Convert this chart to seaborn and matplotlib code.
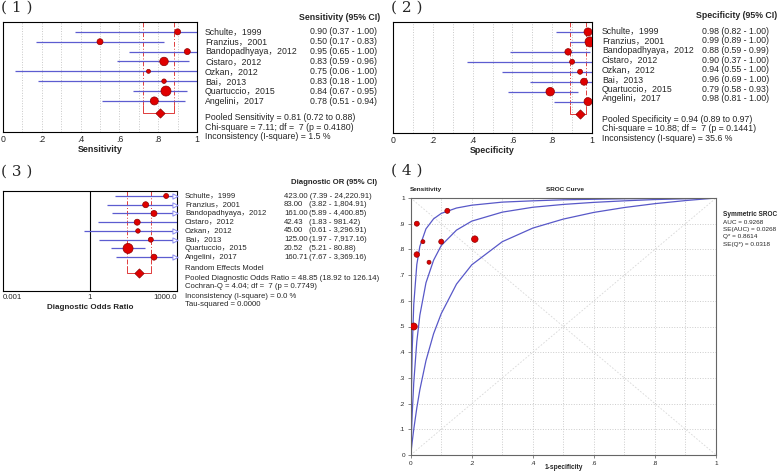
import numpy as np
import matplotlib
matplotlib.use("Agg")
import matplotlib.pyplot as plt
import matplotlib.transforms as mtransforms
import seaborn as sns

studies = ["Schulte，1999", "Franzius，2001", "Bandopadhyaya，2012", "Cistaro，2012",
           "Ozkan，2012", "Bai，2013", "Quartuccio，2015", "Angelini，2017"]

sens = [0.90, 0.50, 0.95, 0.83, 0.75, 0.83, 0.84, 0.78]
sens_lo = [0.37, 0.17, 0.65, 0.59, 0.06, 0.18, 0.67, 0.51]
sens_hi = [1.00, 0.83, 1.00, 0.96, 1.00, 1.00, 0.95, 0.94]
sens_w = [6, 6, 6, 8.5, 4, 4.5, 10, 8]
sens_pooled = [0.81, 0.72, 0.88]

spec = [0.98, 0.99, 0.88, 0.90, 0.94, 0.96, 0.79, 0.98]
spec_lo = [0.82, 0.89, 0.59, 0.37, 0.55, 0.69, 0.58, 0.81]
spec_hi = [1.00, 1.00, 0.99, 1.00, 1.00, 1.00, 0.93, 1.00]
spec_w = [8, 10, 6.5, 5, 5, 7, 8.5, 8]
spec_pooled = [0.94, 0.89, 0.97]

dor = [423.00, 83.00, 161.00, 42.43, 45.00, 125.00, 20.52, 160.71]
dor_lo = [7.39, 3.82, 5.89, 1.83, 0.61, 1.97, 5.21, 7.67]
dor_hi = [24220.91, 1804.91, 4400.85, 981.42, 3296.91, 7917.16, 80.88, 3369.16]
dor_w = [5, 6, 6, 6, 4.5, 5, 10, 6]
dor_pooled = [48.85, 18.92, 126.14]
dor_val_txt = ["423.00", "83.00", "161.00", "42.43", "45.00", "125.00", "20.52", "160.71"]
dor_ci_txt = ["(7.39 - 24,220.91)", "(3.82 - 1,804.91)", "(5.89 - 4,400.85)", "(1.83 - 981.42)",
              "(0.61 - 3,296.91)", "(1.97 - 7,917.16)", "(5.21 - 80.88)", "(7.67 - 3,369.16)"]

sroc_w = [5, 7, 5, 5, 4, 4, 6.5, 5.5]

# SROC curves (1-specificity, sensitivity)
inner_x = [0, 0.001, 0.002, 0.005, 0.01, 0.02, 0.03, 0.05, 0.075, 0.1, 0.15, 0.2, 0.3, 0.4, 0.5, 0.7, 1.0]
inner_y = [0, 0.123, 0.219, 0.413, 0.586, 0.741, 0.812, 0.880, 0.919, 0.940, 0.961, 0.972, 0.984, 0.989, 0.993, 0.997, 1.0]
mid_x = [0, 0.002, 0.005, 0.01, 0.02, 0.03, 0.05, 0.075, 0.1, 0.15, 0.2, 0.3, 0.4, 0.5, 0.6, 0.7, 0.8, 0.9, 1.0]
mid_y = [0, 0.072, 0.162, 0.281, 0.441, 0.544, 0.670, 0.758, 0.815, 0.875, 0.910, 0.945, 0.964, 0.975, 0.983, 0.989, 0.994, 0.997, 1.0]
outer_x = [0, 0.005, 0.01, 0.02, 0.03, 0.05, 0.075, 0.1, 0.15, 0.2, 0.3, 0.4, 0.5, 0.6, 0.7, 0.8, 0.9, 1.0]
outer_y = [0, 0.052, 0.100, 0.183, 0.254, 0.367, 0.472, 0.550, 0.665, 0.740, 0.830, 0.883, 0.918, 0.944, 0.963, 0.978, 0.990, 1.0]

sroc_stats = ["AUC = 0.9268", "SE(AUC) = 0.0268", "Q* = 0.8614", "SE(Q*) = 0.0318"]

sns.set_theme(style="white")
plt.rcParams["font.family"] = ["Liberation Sans", "Noto Sans CJK SC", "DejaVu Sans"]

W, H = 778, 471
fig = plt.figure(figsize=(W / 100, H / 100), dpi=100)

RED = "#e00000"
DARKRED = "#8c0000"
BLUE = "#5c5cd0"
PINK = "#e03c3c"
FS = 6.3
FS3 = 5.6


def px_axes(x0, y0, x1, y1):
    return fig.add_axes([x0 / W, 1 - y1 / H, (x1 - x0) / W, (y1 - y0) / H])


def txt(x, y, s, **kw):
    kw.setdefault("fontsize", FS)
    kw.setdefault("va", "center")
    fig.text(x / W, 1 - y / H, s, **kw)


def panel_tag(x, y, s):
    txt(x, y, s, fontsize=11, family=["DejaVu Serif"])


def dots(ax, x, y, w):
    sns.scatterplot(x=x, y=y, s=(np.array(w) * 0.72) ** 2, color=RED, edgecolor=DARKRED,
                    linewidth=0.5, ax=ax, zorder=4, legend=False)


def bracket(ax, pooled, prow, top):
    est, lo, hi = pooled
    for v in (lo, hi):
        ax.plot([v, v], [top, prow - 0.8], color=PINK, lw=0.7, ls=(0, (5, 2, 1, 2)), zorder=1)
    ax.plot([lo, lo, hi, hi], [prow - 0.8, prow, prow, prow - 0.8], color=PINK, lw=0.7, zorder=1)
    ax.scatter([est], [prow], marker="D", s=22, color=RED, edgecolor=DARKRED, linewidth=0.5, zorder=5)


def prop_forest(ax, est, lo, hi, w, pooled, label):
    rows = np.arange(1, len(est) + 1)
    ax.set_xlim(0, 1)
    ax.set_ylim(11.15, 0)
    for g in np.arange(0.1, 1.0, 0.1):
        ax.axvline(g, color="#c8c8c8", ls=":", lw=0.7, zorder=0)
    ax.hlines(rows, lo, hi, color=BLUE, lw=0.9, zorder=2)
    dots(ax, est, rows, w)
    bracket(ax, pooled, 9.2, 0)
    ax.set_xticks([0, 0.2, 0.4, 0.6, 0.8, 1])
    ax.set_xticklabels(["0", ".2", ".4", ".6", ".8", "1"])
    ax.set_yticks([])
    ax.tick_params(axis="x", length=0, labelsize=FS, pad=2)
    for sp in ax.spines.values():
        sp.set_color("black")
        sp.set_linewidth(0.8)
    ax.set_xlabel(label, fontsize=6.4, fontweight="bold", labelpad=1)


# (1) sensitivity
ax1 = px_axes(3, 22, 197, 132)
prop_forest(ax1, sens, sens_lo, sens_hi, sens_w, sens_pooled, "Sensitivity")
panel_tag(1, 8, "( 1 )")
txt(380, 17, "Sensitivity (95% CI)", ha="right", fontweight="bold")
for i, name in enumerate(studies):
    y = 32 + i * 9.86
    txt(205, y, name)
    txt(310, y, f"{sens[i]:.2f} ({sens_lo[i]:.2f} - {sens_hi[i]:.2f})")
txt(205, 118, "Pooled Sensitivity = 0.81 (0.72 to 0.88)")
txt(205, 127.5, "Chi-square = 7.11; df =  7 (p = 0.4180)")
txt(205, 137, "Inconsistency (I-square) = 1.5 %")

# (2) specificity
ax2 = px_axes(393, 22, 592, 133)
prop_forest(ax2, spec, spec_lo, spec_hi, spec_w, spec_pooled, "Specificity")
panel_tag(391, 8, "( 2 )")
txt(777, 16, "Specificity (95% CI)", ha="right", fontweight="bold")
for i, name in enumerate(studies):
    y = 31 + i * 9.7
    txt(602, y, name)
    txt(702, y, f"{spec[i]:.2f} ({spec_lo[i]:.2f} - {spec_hi[i]:.2f})")
txt(602, 119, "Pooled Specificity = 0.94 (0.89 to 0.97)")
txt(602, 128.7, "Chi-square = 10.88; df =  7 (p = 0.1441)")
txt(602, 138.3, "Inconsistency (I-square) = 35.6 %")

# (3) diagnostic odds ratio
ax3 = px_axes(3, 191, 177, 291)
rows = np.arange(1, len(dor) + 1)
xmax = 1000
ax3.set_xscale("log")
ax3.set_xlim(0.001, xmax)
ax3.set_ylim(11.87, 0.43)
ax3.axvline(1, color="black", lw=0.8, zorder=1)
ax3.hlines(rows, dor_lo, np.minimum(dor_hi, xmax), color=BLUE, lw=0.9, zorder=2)
over = np.array(dor_hi) > xmax
shift = mtransforms.ScaledTranslation(-2.5 / 100, 0, fig.dpi_scale_trans)
ax3.scatter(np.full(over.sum(), xmax), rows[over], marker=">", s=14, facecolor="white",
            edgecolor="#8a8af0", linewidth=0.7, zorder=3, clip_on=False,
            transform=ax3.transData + shift)
dots(ax3, dor, rows, dor_w)
bracket(ax3, dor_pooled, 9.84, 0.43)
ax3.set_xticks([0.001, 1, 1000])
ax3.set_xticklabels(["0.001", "1", "1000.0"])
ax3.xaxis.set_minor_locator(matplotlib.ticker.NullLocator())
labs = ax3.get_xticklabels()
labs[0].set_ha("left")
labs[2].set_ha("right")
ax3.set_yticks([])
ax3.tick_params(axis="x", length=0, labelsize=FS3, pad=2.5)
for sp in ax3.spines.values():
    sp.set_color("black")
    sp.set_linewidth(0.8)
ax3.set_xlabel("Diagnostic Odds Ratio", fontsize=5.8, fontweight="bold", labelpad=1.5)
panel_tag(1, 172, "( 3 )")
txt(377, 183, "Diagnostic OR (95% CI)", ha="right", fontweight="bold", fontsize=FS3)
for i, name in enumerate(studies):
    y = 196 + i * 8.74
    txt(185, y, name, fontsize=FS3)
    if i == 0:
        txt(284, y, dor_val_txt[i] + " " + dor_ci_txt[i], fontsize=FS3)
    else:
        txt(284, y, dor_val_txt[i], fontsize=FS3)
        txt(309, y, dor_ci_txt[i], fontsize=FS3)
txt(185, 269, "Random Effects Model", fontsize=FS3)
txt(185, 278, "Pooled Diagnostic Odds Ratio = 48.85 (18.92 to 126.14)", fontsize=FS3)
txt(185, 287, "Cochran-Q = 4.04; df =  7 (p = 0.7749)", fontsize=FS3)
txt(185, 296, "Inconsistency (I-square) = 0.0 %", fontsize=FS3)
txt(185, 304.5, "Tau-squared = 0.0000", fontsize=FS3)

# (4) SROC curve
ax4 = px_axes(410.7, 198, 716, 455)
ax4.set_xlim(0, 1)
ax4.set_ylim(0, 1)
for g in np.arange(0.1, 1.0, 0.1):
    ax4.axvline(g, color="#cccccc", ls=":", lw=0.7, zorder=0)
    ax4.axhline(g, color="#cccccc", ls=":", lw=0.7, zorder=0)
ax4.plot([0, 1], [0, 1], color="#d8d8d8", ls=(0, (2, 2)), lw=0.6, zorder=0)
ax4.plot([0, 1], [1, 0], color="#d8d8d8", ls=(0, (2, 2)), lw=0.6, zorder=0)
for cx, cy in [(inner_x, inner_y), (mid_x, mid_y), (outer_x, outer_y)]:
    sns.lineplot(x=cx, y=cy, sort=False, color="#5858c8", lw=0.9, ax=ax4, zorder=2)
fpr = 1 - np.array(spec)
dots(ax4, fpr, sens, sroc_w)
ax4.set_xticks([0, 0.2, 0.4, 0.6, 0.8, 1])
ax4.set_xticklabels(["0", ".2", ".4", ".6", ".8", "1"])
ax4.set_yticks(np.round(np.arange(0, 1.01, 0.1), 1))
ax4.set_yticklabels(["0", ".1", ".2", ".3", ".4", ".5", ".6", ".7", ".8", ".9", "1"])
ax4.tick_params(labelsize=4.6, length=2, width=0.5, pad=2, color="#555555")
ax4.tick_params(axis="x", bottom=True)
ax4.tick_params(axis="y", left=True)
for sp in ax4.spines.values():
    sp.set_color("#666666")
    sp.set_linewidth(0.8)
ax4.set_xlabel("")
ax4.set_ylabel("")
panel_tag(391, 171, "( 4 )")
txt(410, 189.5, "Sensitivity", fontsize=4.6, fontweight="bold")
txt(565, 189.5, "SROC Curve", fontsize=4.6, fontweight="bold", ha="center")
txt(564, 467.5, "1-specificity", fontsize=4.8, fontweight="bold", ha="center")
txt(723, 215, "Symmetric SROC", fontsize=4.7, fontweight="bold")
for i, s in enumerate(sroc_stats):
    txt(723, 222.5 + i * 7.2, s, fontsize=4.6)

fig.savefig("out.png", dpi=100)
